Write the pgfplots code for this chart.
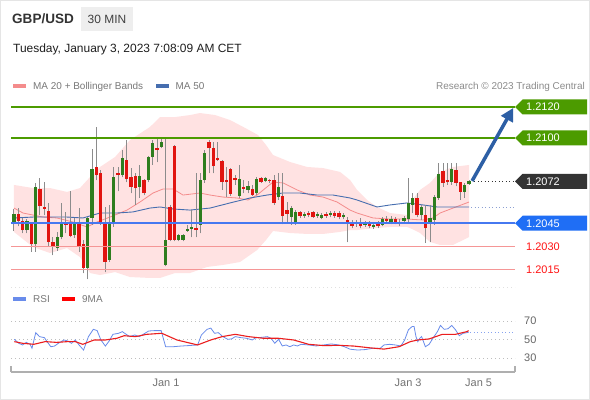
\documentclass[border=0pt]{standalone}
\usepackage{fontspec}
\setmainfont{Liberation Sans}
\usepackage{pgfplots}
\pgfplotsset{compat=1.18}
\usepackage{pgfplotstable}
\usetikzlibrary{arrows.meta}

\definecolor{upG}{RGB}{46,125,30}
\definecolor{dnR}{RGB}{225,20,16}
\definecolor{wick}{RGB}{140,140,140}
\definecolor{bbfill}{RGB}{255,226,226}
\definecolor{ma20}{RGB}{244,140,140}
\definecolor{ma50}{RGB}{70,110,175}
\definecolor{ma50d}{RGB}{140,160,210}
\definecolor{lvlG}{RGB}{76,155,0}
\definecolor{lvlB}{RGB}{70,120,240}
\definecolor{tagB}{RGB}{31,110,245}
\definecolor{tagK}{RGB}{51,51,51}
\definecolor{lvlR}{RGB}{245,150,150}
\definecolor{txtR}{RGB}{255,20,20}
\definecolor{arrowB}{RGB}{45,95,165}
\definecolor{rsiB}{RGB}{105,140,235}
\definecolor{rsiR}{RGB}{235,30,30}
\definecolor{gridc}{RGB}{190,190,190}
\definecolor{axisgray}{RGB}{175,175,175}
\definecolor{boxgray}{RGB}{238,238,238}
\definecolor{legtxt}{RGB}{120,120,120}

\newcommand{\fs}[1]{\fontsize{#1}{#1}\selectfont}
% prices are plotted as pips above 1.2000 (y = (price - 1.2) * 10000)
\newcommand{\pricetag}[3]{%
  \fill[#2] (axis cs:115.6,{(#1-1.2)*10000}) -- ++(7.5bp,7.5bp) -- ++(64.5bp,0bp) -- ++(0bp,-15bp) -- ++(-64.5bp,0bp) -- cycle;
  \node[anchor=west, text=white, inner sep=0pt, xshift=11bp, font=\fs{11}] at (axis cs:115.6,{(#1-1.2)*10000}) {#3};}
\newcommand{\level}[3]{%
  \addplot[#2, line width=#3, forget plot] table[row sep=\\, x=x, y expr=(\thisrow{p}-1.2)*10000] {x p\\ -0.69 #1\\ 115.6 #1\\};}
\pgfplotsset{candle/.style={only marks, mark=*, mark size=0pt, mark options={draw=none, fill=none}, forget plot}}

\pgfplotstableread{
i o h l c
0 1.20445 1.20542 1.20400 1.20510
3 1.20406 1.20477 1.20387 1.20465
5 1.20316 1.20710 1.20265 1.20684
10 1.20290 1.20394 1.20271 1.20361
11 1.20361 1.20581 1.20348 1.20445
14 1.20374 1.20484 1.20355 1.20452
17 1.20161 1.20490 1.20090 1.20484
18 1.20484 1.20929 1.20439 1.20800
22 1.20213 1.20568 1.20200 1.20445
23 1.20458 1.20813 1.20426 1.20748
25 1.20761 1.20923 1.20748 1.20871
29 1.20684 1.20826 1.20613 1.20755
31 1.20729 1.20884 1.20716 1.20877
32 1.20877 1.20987 1.20826 1.20968
34 1.20942 1.21006 1.20935 1.20974
35 1.20181 1.21000 1.20174 1.20342
38 1.20342 1.20381 1.20335 1.20374
39 1.20342 1.20381 1.20335 1.20374
40 1.20400 1.20439 1.20394 1.20413
41 1.20413 1.20535 1.20361 1.20426
43 1.20439 1.20774 1.20387 1.20729
44 1.20729 1.20923 1.20710 1.20903
52 1.20626 1.20826 1.20613 1.20735
54 1.20665 1.20723 1.20645 1.20690
56 1.20645 1.20748 1.20632 1.20735
58 1.20723 1.20748 1.20716 1.20742
61 1.20619 1.20774 1.20600 1.20684
64 1.20490 1.20561 1.20439 1.20548
65 1.20452 1.20535 1.20439 1.20523
67 1.20497 1.20523 1.20484 1.20510
70 1.20497 1.20523 1.20484 1.20510
71 1.20484 1.20516 1.20477 1.20503
73 1.20503 1.20529 1.20490 1.20516
76 1.20490 1.20516 1.20477 1.20503
79 1.20445 1.20471 1.20426 1.20458
81 1.20439 1.20465 1.20426 1.20452
83 1.20426 1.20458 1.20413 1.20439
85 1.20439 1.20490 1.20432 1.20477
87 1.20458 1.20497 1.20445 1.20477
90 1.20465 1.20497 1.20452 1.20484
91 1.20477 1.20742 1.20458 1.20581
92 1.20568 1.20645 1.20516 1.20613
94 1.20503 1.20568 1.20471 1.20555
96 1.20445 1.20568 1.20329 1.20484
97 1.20471 1.20632 1.20439 1.20619
98 1.20613 1.20839 1.20600 1.20768
101 1.20716 1.20839 1.20697 1.20800
104 1.20652 1.20710 1.20613 1.20697
105 1.20703 1.20729 1.20697 1.20723
}\upc

\pgfplotstableread{
i o h l c
1 1.20510 1.20548 1.20432 1.20465
2 1.20465 1.20484 1.20387 1.20406
4 1.20452 1.20458 1.20265 1.20316
6 1.20671 1.20742 1.20503 1.20561
7 1.20555 1.20716 1.20503 1.20542
8 1.20529 1.20581 1.20297 1.20329
9 1.20329 1.20361 1.20245 1.20297
12 1.20452 1.20523 1.20387 1.20439
13 1.20452 1.20658 1.20361 1.20368
15 1.20452 1.20548 1.20265 1.20297
16 1.20316 1.20342 1.20129 1.20161
19 1.20813 1.21071 1.20729 1.20761
20 1.20774 1.20794 1.20439 1.20452
21 1.20445 1.20555 1.20135 1.20200
24 1.20774 1.20813 1.20658 1.20761
26 1.20858 1.20987 1.20716 1.20735
27 1.20748 1.20806 1.20645 1.20684
28 1.20755 1.20774 1.20568 1.20677
30 1.20729 1.20735 1.20632 1.20645
33 1.20935 1.20994 1.20845 1.20923
36 1.20555 1.20568 1.20335 1.20342
37 1.20948 1.20955 1.20335 1.20342
42 1.20419 1.20774 1.20361 1.20406
45 1.20974 1.20987 1.20774 1.20935
46 1.20935 1.20974 1.20774 1.20819
47 1.20871 1.20974 1.20852 1.20858
48 1.20852 1.20858 1.20665 1.20716
49 1.20729 1.20813 1.20619 1.20716
50 1.20800 1.20806 1.20626 1.20639
51 1.20742 1.20761 1.20697 1.20729
53 1.20684 1.20729 1.20645 1.20671
55 1.20671 1.20697 1.20626 1.20632
57 1.20742 1.20748 1.20710 1.20716
59 1.20729 1.20735 1.20710 1.20723
60 1.20729 1.20761 1.20568 1.20581
62 1.20626 1.20774 1.20445 1.20497
63 1.20535 1.20587 1.20458 1.20510
66 1.20523 1.20529 1.20484 1.20497
68 1.20516 1.20529 1.20490 1.20503
69 1.20523 1.20529 1.20484 1.20490
72 1.20510 1.20523 1.20484 1.20497
74 1.20516 1.20529 1.20484 1.20497
75 1.20516 1.20529 1.20477 1.20490
77 1.20471 1.20490 1.20329 1.20452
78 1.20452 1.20471 1.20419 1.20432
80 1.20458 1.20484 1.20419 1.20432
82 1.20445 1.20465 1.20419 1.20432
84 1.20445 1.20465 1.20419 1.20432
86 1.20477 1.20497 1.20452 1.20465
88 1.20477 1.20490 1.20445 1.20458
89 1.20458 1.20477 1.20432 1.20445
93 1.20613 1.20645 1.20490 1.20503
95 1.20503 1.20568 1.20323 1.20419
99 1.20787 1.20839 1.20684 1.20710
100 1.20729 1.20839 1.20697 1.20716
102 1.20794 1.20839 1.20690 1.20710
103 1.20716 1.20716 1.20600 1.20652
}\dnc

% Bollinger band outline: upper band left to right, lower band right to left
\pgfplotstableread{
x p
0 1.20697
4.38 1.20677
8.31 1.20677
12.23 1.20652
15.23 1.20677
17.54 1.20748
19.85 1.20813
23.31 1.20877
26.77 1.20987
31.38 1.21071
33.69 1.21135
37.16 1.21135
40.62 1.21148
42.92 1.21161
46.39 1.21148
49.85 1.21116
53.31 1.21065
56.31 1.21019
58.15 1.20955
59.77 1.20890
63.7 1.20845
67.62 1.20813
71.31 1.20806
75.23 1.20781
77.54 1.20729
79.15 1.20665
81.46 1.20600
83.77 1.20555
86.77 1.20516
90.7 1.20503
91.85 1.20600
93.7 1.20665
96.0 1.20710
98.31 1.20781
101.3 1.20813
105 1.20826
105 1.20361
101.3 1.20310
98.31 1.20310
96.0 1.20329
93.7 1.20387
91.85 1.20413
90.7 1.20426
86.77 1.20426
83.77 1.20419
81.46 1.20413
79.15 1.20406
77.54 1.20406
75.23 1.20394
71.31 1.20381
67.62 1.20381
63.7 1.20387
59.77 1.20400
58.15 1.20342
56.08 1.20277
52.15 1.20200
48.23 1.20181
44.54 1.20168
40.62 1.20129
37.16 1.20129
33.69 1.20097
31.38 1.20097
26.77 1.20103
23.31 1.20135
19.85 1.20116
17.54 1.20129
15.23 1.20232
12.23 1.20290
8.31 1.20258
4.38 1.20297
0 1.20394
}\bbtab

\pgfplotstableread{
x p
0 1.20548
2.08 1.20516
4.38 1.20503
6.69 1.20490
9.92 1.20484
13.62 1.20458
16.85 1.20426
19.15 1.20458
22.15 1.20490
26.08 1.20535
29.08 1.20587
32.08 1.20645
34.39 1.20671
36.69 1.20671
39.0 1.20632
42.92 1.20645
45.23 1.20632
48.23 1.20619
51.46 1.20613
54.0 1.20600
56.08 1.20632
59.77 1.20716
62.08 1.20710
65.31 1.20665
68.31 1.20632
71.31 1.20619
74.54 1.20587
77.54 1.20535
79.15 1.20516
82.85 1.20484
86.77 1.20477
90.7 1.20477
94.39 1.20471
96.7 1.20484
98.31 1.20516
101.31 1.20548
105 1.20587
}\matw

\pgfplotstableread{
x p
0 1.20484
4.38 1.20490
8.31 1.20490
12.23 1.20490
15.92 1.20484
19.85 1.20516
23.77 1.20516
27.46 1.20523
31.38 1.20548
33.69 1.20555
36.69 1.20542
40.62 1.20535
45.23 1.20548
49.85 1.20581
54.46 1.20613
58.39 1.20632
62.08 1.20645
66.0 1.20645
69.93 1.20632
73.62 1.20632
77.54 1.20613
79.15 1.20600
83.77 1.20555
86.77 1.20568
90.7 1.20581
94.39 1.20568
97.62 1.20555
105 1.20555
}\mafi

\begin{document}
\begin{tikzpicture}
\useasboundingbox (0,0) rectangle (590bp,400bp);
\fill[white] (0,0) rectangle (590bp,400bp);
\draw[black!10, line width=1bp] (0.5bp,0.5bp) rectangle (589.5bp,399.5bp);

% header
\node[anchor=base west, inner sep=0pt, text=black!80, font=\fs{13.6}\bfseries] at (12bp,376bp) {GBP/USD};
\fill[boxgray] (81bp,369bp) rectangle (133bp,393bp);
\node[anchor=base, inner sep=0pt, text=black!75, font=\fs{12}] at (107bp,376.5bp) {30 MIN};
\node[anchor=base west, inner sep=0pt, text=black!88, font=\fs{12}] at (13bp,347.5bp) {Tuesday, January 3, 2023 7:08:09 AM CET};

% legend main
\fill[ma20] (13bp,311.7bp) rectangle (26bp,316bp);
\node[anchor=base west, inner sep=0pt, text=legtxt, font=\fs{10}] at (33bp,310bp) {MA 20 + Bollinger Bands};
\fill[ma50] (156bp,311.7bp) rectangle (169bp,316bp);
\node[anchor=base west, inner sep=0pt, text=legtxt, font=\fs{10}] at (175.5bp,310bp) {MA 50};
\node[anchor=base east, inner sep=0pt, text=black!45, font=\fs{10}] at (585bp,310bp) {Research © 2023 Trading Central};

% RSI legend
\fill[rsiB] (13bp,99bp) rectangle (26bp,102.5bp);
\node[anchor=base west, inner sep=0pt, text=legtxt, font=\fs{10}] at (33bp,97bp) {RSI};
\fill[red] (62bp,99bp) rectangle (75bp,102.5bp);
\node[anchor=base west, inner sep=0pt, text=legtxt, font=\fs{10}] at (82bp,97bp) {9MA};

\begin{axis}[at={(11bp,115bp)}, anchor=south west, scale only axis,
  width=504bp, height=185bp, xmin=-0.69, xmax=115.6,
  ymin=5.161, ymax=124.516, hide axis, clip=false]

\addplot[fill=bbfill, draw=none, forget plot] table[x=x, y expr=(\thisrow{p}-1.2)*10000] {\bbtab} -- cycle;
\addplot[ma20, line width=0.8bp, forget plot] table[x=x, y expr=(\thisrow{p}-1.2)*10000] {\matw};
\addplot[ma50, line width=0.9bp, forget plot] table[x=x, y expr=(\thisrow{p}-1.2)*10000] {\mafi};
\addplot[ma50d, line width=0.9bp, dash pattern=on 1bp off 2.5bp, forget plot] table[row sep=\\, x=x, y expr=(\thisrow{p}-1.2)*10000] {x p\\ 105.5 1.20555\\ 115.6 1.20555\\};

% wicks
\addplot[candle, error bars/.cd, y dir=plus, y explicit, error mark=none,
  error bar style={draw=wick, line width=1bp}]
  table[x=i, y expr=(\thisrow{l}-1.2)*10000, y error plus expr=(\thisrow{h}-\thisrow{l})*10000] {\upc};
\addplot[candle, error bars/.cd, y dir=plus, y explicit, error mark=none,
  error bar style={draw=wick, line width=1bp}]
  table[x=i, y expr=(\thisrow{l}-1.2)*10000, y error plus expr=(\thisrow{h}-\thisrow{l})*10000] {\dnc};
% bodies
\addplot[candle, error bars/.cd, y dir=plus, y explicit, error mark=none,
  error bar style={draw=upG, line width=3.4bp}]
  table[x=i, y expr=(\thisrow{o}-1.2)*10000, y error plus expr=(\thisrow{c}-\thisrow{o})*10000] {\upc};
\addplot[candle, error bars/.cd, y dir=plus, y explicit, error mark=none,
  error bar style={draw=dnR, line width=3.4bp}]
  table[x=i, y expr=(\thisrow{c}-1.2)*10000, y error plus expr=(\thisrow{o}-\thisrow{c})*10000] {\dnc};

% levels
\level{1.2120}{lvlG}{2bp}
\level{1.2100}{lvlG}{2bp}
\level{1.2045}{lvlB}{2bp}
\level{1.2030}{lvlR}{1.2bp}
\level{1.2015}{lvlR}{1.2bp}
\addplot[tagK, line width=0.9bp, dash pattern=on 1bp off 2.5bp, forget plot] table[row sep=\\, x=x, y expr=(\thisrow{p}-1.2)*10000] {x p\\ 106.2 1.2072\\ 115.6 1.2072\\};

\draw[arrowB, line width=3.5bp, -{Triangle[length=13bp,width=13bp]}] (axis cs:105.7,72.3) -- (axis cs:115.2,119.4);

\pricetag{1.2120}{lvlG}{1.2120}
\pricetag{1.2100}{lvlG}{1.2100}
\pricetag{1.2072}{tagK}{1.2072}
\pricetag{1.2045}{tagB}{1.2045}
\node[anchor=west, text=txtR, inner sep=0pt, xshift=11bp, font=\fs{11}] at (axis cs:115.6,30) {1.2030};
\node[anchor=west, text=txtR, inner sep=0pt, xshift=11bp, font=\fs{11}] at (axis cs:115.6,15) {1.2015};
\end{axis}

\draw[black!12, dash pattern=on 1bp off 3bp] (11bp,113bp) -- (515bp,113bp);

\begin{axis}[at={(11bp,28bp)}, anchor=south west, scale only axis,
  width=504bp, height=62bp, xmin=-0.69, xmax=115.6, ymin=14.86, ymax=81.89,
  axis x line*=bottom, axis y line=none, clip=false,
  x axis line style={draw=axisgray, line width=1.5bp, -},
  xtick={35.08,90.93,107.2}, xticklabels={Jan 1,Jan 3,Jan 5},
  xtick style={draw=none}, major tick length=0pt,
  xticklabel style={font=\fs{11}, text=black!55, anchor=base, inner sep=0pt, yshift=-14.5bp}]
\addplot[gridc, line width=0.9bp, dash pattern=on 1bp off 3bp, forget plot] coordinates {(-0.69,70) (115.6,70)};
\addplot[gridc, line width=0.9bp, dash pattern=on 1bp off 3bp, forget plot] coordinates {(-0.69,50) (115.6,50)};
\addplot[gridc, line width=0.9bp, dash pattern=on 1bp off 3bp, forget plot] coordinates {(-0.69,30) (115.6,30)};
\node[anchor=west, inner sep=0pt, xshift=9bp, text=black!60, font=\fs{11}] at (axis cs:115.6,70) {70};
\node[anchor=west, inner sep=0pt, xshift=9bp, text=black!60, font=\fs{11}] at (axis cs:115.6,50) {50};
\node[anchor=west, inner sep=0pt, xshift=9bp, text=black!60, font=\fs{11}] at (axis cs:115.6,30) {30};

\addplot[rsiB, line width=0.8bp, forget plot] coordinates {
(0.07,50.2) (1.11,45.9) (1.98,44.1) (2.85,46.9) (3.72,44.8) (4.15,40.5) (5.02,57.4) (5.89,53.1)
(7.02,52.0) (7.63,47.7) (8.5,42.2) (9.36,42.9) (10.23,45.9) (11.54,49.5) (12.4,48.4) (13.27,45.9)
(14.14,49.5) (15.01,44.1) (16.05,38.6) (17.18,53.1) (18.31,61.0) (19.18,59.6) (20.05,49.5)
(21.09,42.9) (21.96,48.4) (22.83,55.6) (24.13,56.7) (25.0,58.5) (25.87,55.6) (26.74,53.1)
(27.87,54.9) (28.91,53.1) (30.21,56.7) (31.08,59.2) (32.38,59.6) (33.95,59.6) (34.99,42.2)
(36.73,42.2) (38.46,42.9) (40.2,43.4) (42.37,44.1) (43.24,54.9) (44.54,61.0) (45.41,62.3)
(46.28,56.7) (47.15,57.4) (48.19,53.1) (49.32,50.2) (50.19,50.6) (51.06,53.1) (52.36,52.0)
(53.66,51.3) (54.97,49.5) (55.83,52.0) (57.14,52.3) (58.44,53.1) (59.31,51.3) (60.18,45.9)
(61.05,50.2) (61.91,43.0) (62.78,44.1) (63.65,42.2) (64.52,44.1) (65.39,43.0) (66.26,44.8)
(67.99,44.1) (69.73,43.0) (71.47,44.1) (73.21,45.2) (74.94,44.1) (76.25,42.2) (77.55,39.5)
(79.29,38.6) (81.02,39.1) (82.76,40.5) (84.5,40.5) (85.37,44.1) (86.67,44.8) (87.97,44.1)
(89.27,43.0) (90.14,49.5) (91.01,60.5) (91.88,64.1) (92.31,64.1) (92.75,53.1) (93.18,47.7)
(93.62,51.3) (94.05,53.1) (94.92,42.2) (95.79,44.8) (96.66,51.3) (97.7,58.5) (98.39,65.2)
(99.26,61.0) (100.13,61.6) (101.0,65.2) (101.87,60.5) (102.74,54.1) (103.61,56.7)
(104.48,57.4) (104.91,57.8)
};
\addplot[rsiB!80, line width=0.9bp, dash pattern=on 1bp off 2.5bp, forget plot] coordinates {(105.3,57.8) (115.6,57.8)};
\addplot[rsiR, line width=1.1bp, forget plot] coordinates {
(0.07,47.7) (1.98,45.9) (4.59,44.8) (7.19,47.7) (9.8,46.9) (12.4,47.7) (14.14,47.7)
(15.88,44.8) (18.48,49.5) (21.09,49.5) (23.7,51.3) (25.43,54.1) (28.04,53.1) (30.64,55.6)
(34.12,56.7) (37.59,49.5) (42.37,44.1) (45.41,49.5) (48.02,53.1) (51.06,55.6) (54.1,53.1)
(57.57,51.3) (61.05,51.3) (64.52,49.5) (67.99,44.8) (71.47,43.4) (74.94,43.7) (78.42,42.9)
(81.89,41.1) (85.37,39.6) (88.84,42.2) (91.45,47.7) (93.18,49.5) (95.79,50.6) (98.83,55.6)
(101.87,55.6) (104.48,58.5) (104.91,59.6)
};
\draw[axisgray, line width=1.5bp] (axis cs:-0.69,14.86) -- ++(0bp,6bp);
\draw[axisgray, line width=1.5bp] (axis cs:115.6,14.86) -- ++(0bp,6bp);
\end{axis}
\end{tikzpicture}
\end{document}
